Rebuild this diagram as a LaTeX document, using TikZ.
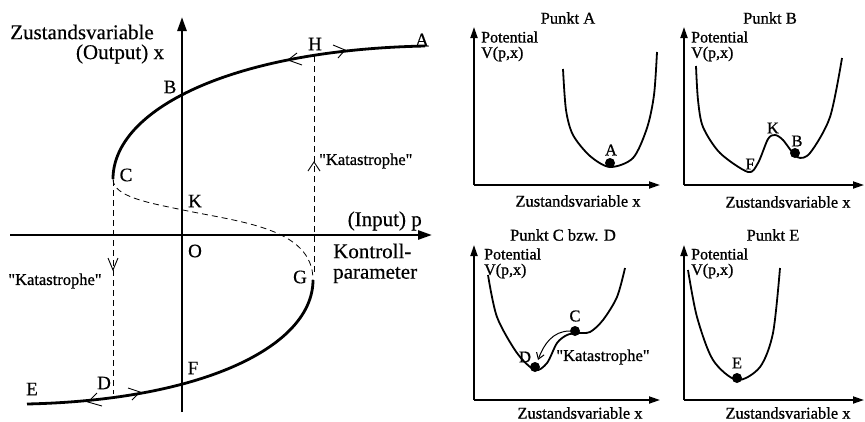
\documentclass[tikz,border=0pt]{standalone}
\usepackage{fontspec}
\setmainfont{Liberation Serif}
\newfontfamily\leftfont{Liberation Serif}[FakeBold=0.4]
\newfontfamily\panelfont{Liberation Serif}[FakeBold=0.9]
\usetikzlibrary{arrows.meta}
\begin{document}
\begin{tikzpicture}[x=1pt,y=-1pt,
  axis/.style={line width=2.6pt,-{Triangle[length=14pt,width=9pt]}},
  branch/.style={line width=2.8pt},
  dashline/.style={line width=0.8pt, dash pattern=on 6pt off 4pt},
  chev/.style={line width=0.9pt},
  big/.style={font=\leftfont\fontsize{21}{24}\selectfont, inner sep=0pt},
  lab/.style={font=\leftfont\fontsize{19}{22}\selectfont, inner sep=0pt},
  kat/.style={font=\panelfont\fontsize{16.5}{19}\selectfont, inner sep=0pt},
  paxis/.style={line width=1.8pt,-{Triangle[length=11pt,width=7pt]}},
  pcurve/.style={line width=1.8pt},
  ptxt/.style={font=\panelfont\fontsize{16.5}{19}\selectfont, inner sep=0pt},
  pot/.style={font=\panelfont\fontsize{16}{19}\selectfont, inner sep=0pt, anchor=west},
  ball/.style={circle, fill=black, minimum size=10pt, inner sep=0pt},
]
\useasboundingbox (0,0) rectangle (865,421);

% ---------- left diagram ----------
\coordinate (ybot) at (182,412);
\coordinate (ytop) at (182,17);
\coordinate (xl) at (10,235);
\coordinate (xr) at (432,235);
\draw[axis] (ybot) -- (ytop);
\draw[axis] (xl) -- (xr);

\coordinate (C) at (113,179);
\coordinate (A) at (425,46);
\coordinate (G) at (313,280);
\coordinate (E) at (27,404);
\coordinate (K) at (183,210);
\draw[branch] (C) .. controls (113,110) and (230,50) .. (A);
\draw[branch] (G) .. controls (313,345) and (206,400) .. (E);
\draw[dashline] (C) .. controls (113,197) and (150,203) .. (K)
                    .. controls (240,222) and (313,228) .. (G);

\coordinate (Htop) at (314,56);
\coordinate (Hbot) at (314,275);
\coordinate (Ctop) at (113,180);
\coordinate (Dbot) at (113,394);
\draw[dashline] (Htop) -- (Hbot);
\draw[dashline] (Ctop) -- (Dbot);

% chevrons
\draw[chev] (308,171) -- (314,162) -- (320,171);
\draw[chev] (108,258) -- (113,270) -- (118,258);
\draw[chev] (297,53) -- (288,60) -- (302,65);
\draw[chev] (333,45) -- (345,50) -- (338,58);
\draw[chev] (97,393) -- (88,402) -- (102,406);
\draw[chev] (128,388) -- (140,392) -- (132,400);

% labels
\node[big] (tz) at (82,32) {Zustandsvariable};
\node[big] (to) at (120,54) {(Output) x};
\node[big,anchor=east] (ti) at (422,221) {(Input) p};
\node[big,anchor=west] (tk) at (333,251) {Kontroll-};
\node[big,anchor=west] (tp) at (333,275) {parameter};
\node[lab] (lA) at (422,40) {A};
\node[lab] (lH) at (315,44) {H};
\node[lab] (lB) at (170,87) {B};
\node[lab] (lC) at (126,175) {C};
\node[lab] (lK) at (195,201) {K};
\node[lab] (lO) at (195,251) {O};
\node[lab] (lG) at (300,277) {G};
\node[lab] (lF) at (193,368) {F};
\node[lab] (lD) at (104,383) {D};
\node[lab] (lE) at (32,389) {E};
\node[kat,anchor=west] (kr) at (319,161) {"Katastrophe"};
\node[kat] (kl) at (55,281) {"Katastrophe"};

% ---------- panel A ----------
\coordinate (pa0) at (474,185);
\draw[paxis] (pa0) -- (474,27);
\draw[paxis] (pa0) -- (660,185);
\node[ptxt] (paT) at (568,18) {Punkt A};
\node[pot] (paP) at (481,37) {Potential};
\node[pot] (paV) at (481,54) {V(p,x)};
\node[ptxt] (paX) at (578,201) {Zustandsvariable x};
\draw[pcurve] plot[smooth] coordinates {(563,69) (566,110) (573,135) (590,156) (610,167) (633,158) (647,128) (654,95) (657,52)};
\node[ball] (baA) at (610,163) {};
\node[ptxt] (laA) at (611,150) {A};

% ---------- panel B ----------
\coordinate (pb0) at (684,185);
\draw[paxis] (pb0) -- (684,27);
\draw[paxis] (pb0) -- (864,185);
\node[ptxt] (pbT) at (770,18) {Punkt B};
\node[pot] (pbP) at (691,37) {Potential};
\node[pot] (pbV) at (691,54) {V(p,x)};
\node[ptxt] (pbX) at (788,202) {Zustandsvariable x};
\draw[pcurve] plot[smooth] coordinates {(696,66) (698,100) (703,127) (720,153) (748,172) (758,163) (768,139) (775,135) (783,140) (797,157) (810,153) (830,117) (842,58)};
\node[ball] (bbB) at (795,153) {};
\node[ptxt] (lbF) at (750,164) {F};
\node[ptxt] (lbK) at (773,128) {K};
\node[ptxt] (lbB) at (797,141) {B};

% ---------- panel C ----------
\coordinate (pc0) at (474,400);
\draw[paxis] (pc0) -- (474,245);
\draw[paxis] (pc0) -- (660,400);
\node[ptxt] (pcT) at (563,235) {Punkt C bzw. D};
\node[pot] (pcP) at (484,254) {Potential};
\node[pot] (pcV) at (484,271) {V(p,x)};
\node[ptxt] (pcX) at (580,413) {Zustandsvariable x};
\draw[pcurve] plot[smooth] coordinates {(488,275) (497,317) (517,353) (535,370) (547,363) (557,343) (567,335) (577,333) (590,332) (603,320) (617,297) (625,268)};
\node[ball] (bcC) at (575,331) {};
\node[ball] (bcD) at (535,367) {};
\node[ptxt] (lcC) at (575,316) {C};
\node[ptxt] (lcD) at (525,357) {D};
\draw[line width=1pt,-{Straight Barb[length=6pt,width=8pt]}] (bcC.west) to[out=180,in=70] (538,360);
\node[ptxt] (kc) at (603,357) {"Katastrophe"};

% ---------- panel E ----------
\coordinate (pe0) at (684,400);
\draw[paxis] (pe0) -- (684,245);
\draw[paxis] (pe0) -- (864,400);
\node[ptxt] (peT) at (773,235) {Punkt E};
\node[pot] (peP) at (691,254) {Potential};
\node[pot] (peV) at (691,271) {V(p,x)};
\node[ptxt] (peX) at (788,413) {Zustandsvariable x};
\draw[pcurve] plot[smooth] coordinates {(688,270) (697,317) (713,360) (737,380) (760,367) (773,333) (780,268)};
\node[ball] (beE) at (737,378) {};
\node[ptxt] (leE) at (737,363) {E};
\end{tikzpicture}
\end{document}
